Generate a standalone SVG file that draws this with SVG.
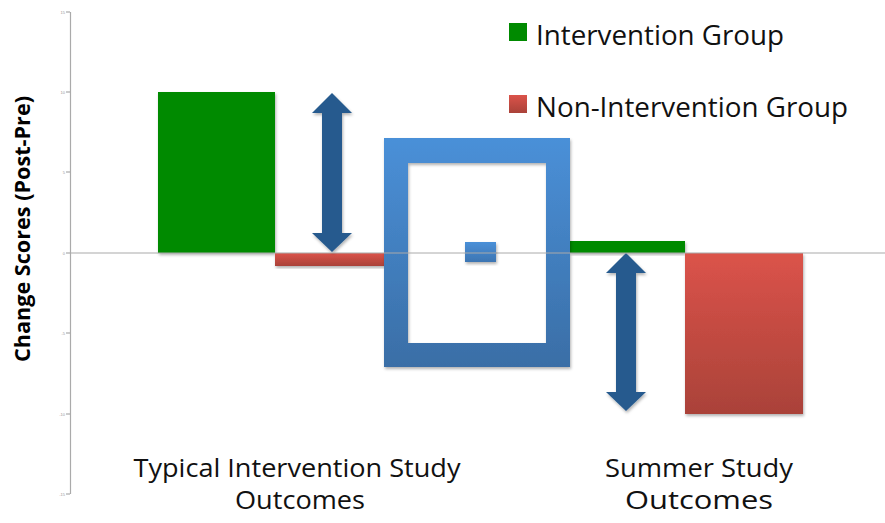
<svg xmlns="http://www.w3.org/2000/svg" width="885" height="523" viewBox="0 0 885 523">
<defs>
<linearGradient id="gBlue" x1="0" y1="0" x2="0" y2="1"><stop offset="0" stop-color="#4a90d8"/><stop offset="1" stop-color="#3a6ea6"/></linearGradient>
<linearGradient id="gRed" x1="0" y1="0" x2="0" y2="1"><stop offset="0" stop-color="#db534a"/><stop offset="1" stop-color="#aa4239"/></linearGradient>
<linearGradient id="gBlueS" x1="0" y1="0" x2="0" y2="1"><stop offset="0" stop-color="#4a90d8"/><stop offset="1" stop-color="#3d75b2"/></linearGradient>
<filter id="sh" x="-10%" y="-10%" width="130%" height="130%"><feDropShadow dx="1" dy="2" stdDeviation="1.5" flood-color="#000" flood-opacity="0.3"/></filter>
</defs>
<style>
.txt{font-family:"Open Sans","Noto Sans","Liberation Sans",sans-serif;fill:#111;font-size:28px}
.lbl{font-family:"Open Sans","Noto Sans","Liberation Sans",sans-serif;fill:#111;font-size:25px;text-anchor:middle}
.tick{font-family:"Liberation Sans",sans-serif;fill:#999;font-size:4px;text-anchor:end}
.axis{stroke:#aaa;stroke-width:1.2;fill:none}
.arrow{fill:#275a8e;filter:url(#sh)}
</style>
<rect width="885" height="523" fill="#fff"/>
<g id="axes">
<line class="axis" x1="70.5" y1="12" x2="70.5" y2="494"/>
<line class="axis" x1="66" y1="12" x2="70" y2="12"/>
<line class="axis" x1="66" y1="92" x2="70" y2="92"/>
<line class="axis" x1="66" y1="172" x2="70" y2="172"/>
<line class="axis" x1="66" y1="253" x2="70" y2="253"/>
<line class="axis" x1="66" y1="333" x2="70" y2="333"/>
<line class="axis" x1="66" y1="414" x2="70" y2="414"/>
<line class="axis" x1="66" y1="494" x2="70" y2="494"/>
<text class="tick" x="65" y="13.5">15</text>
<text class="tick" x="65" y="93.5">10</text>
<text class="tick" x="65" y="173.5">5</text>
<text class="tick" x="65" y="254.5">0</text>
<text class="tick" x="65" y="334.5">-5</text>
<text class="tick" x="65" y="415.5">-10</text>
<text class="tick" x="65" y="495.5">-15</text>
<text x="30" y="229" transform="rotate(-90 30 229)" text-anchor="middle" style="font-family:'Open Sans','Noto Sans',sans-serif;font-weight:bold;font-size:21px;fill:#000" textLength="266" lengthAdjust="spacingAndGlyphs">Change Scores (Post-Pre)</text>
</g>
<g id="bar-typical-intervention"><rect x="158" y="92" width="117" height="161" fill="#008a00" filter="url(#sh)"/></g>
<g id="bar-typical-non"><rect x="275" y="253" width="110" height="13" fill="url(#gRed)" filter="url(#sh)"/></g>
<g id="bar-summer-intervention"><rect x="570" y="241" width="115" height="12" fill="#008a00" filter="url(#sh)"/></g>
<g id="bar-summer-non"><rect x="685" y="253" width="118" height="161" fill="url(#gRed)" filter="url(#sh)"/></g>
<g id="frame">
<path d="M384 138H570V367H384Z M408 163V343H546V163Z" fill="url(#gBlue)" fill-rule="evenodd" filter="url(#sh)"/>
<line x1="408" y1="253" x2="546" y2="253" stroke="#aaa" stroke-width="1"/>
<rect x="465" y="242" width="31" height="20" fill="url(#gBlueS)" filter="url(#sh)"/>
<line x1="465" y1="253" x2="496" y2="253" stroke="#aaa" stroke-width="1"/>
</g>
<g id="connectors">
<path class="arrow" d="M332 93L352 113H342V233H352L332 252L312 233H322V113H312Z"/>
<path class="arrow" d="M626 253L646 273H636V392H646L626 411L606 392H616V273H606Z"/>
</g>
<line x1="70" y1="253" x2="408" y2="253" stroke="#aaa" stroke-width="1.2"/>
<line x1="546" y1="253" x2="885" y2="253" stroke="#aaa" stroke-width="1.2"/>
<g id="legend">
<rect x="509" y="23" width="18" height="18" fill="#008a00"/>
<text class="txt" x="536" y="45" textLength="248" lengthAdjust="spacingAndGlyphs">Intervention Group</text>
<rect x="509" y="95" width="18" height="18" fill="url(#gRed)"/>
<text class="txt" x="536" y="117" textLength="312" lengthAdjust="spacingAndGlyphs">Non-Intervention Group</text>
</g>
<g id="labels">
<text class="lbl" x="297" y="477" textLength="327" lengthAdjust="spacingAndGlyphs">Typical Intervention Study</text>
<text class="lbl" x="300" y="509" textLength="130" lengthAdjust="spacingAndGlyphs">Outcomes</text>
<text class="lbl" x="699" y="477" textLength="188" lengthAdjust="spacingAndGlyphs">Summer Study</text>
<text class="lbl" x="699" y="509" textLength="148" lengthAdjust="spacingAndGlyphs">Outcomes</text>
</g>
</svg>
